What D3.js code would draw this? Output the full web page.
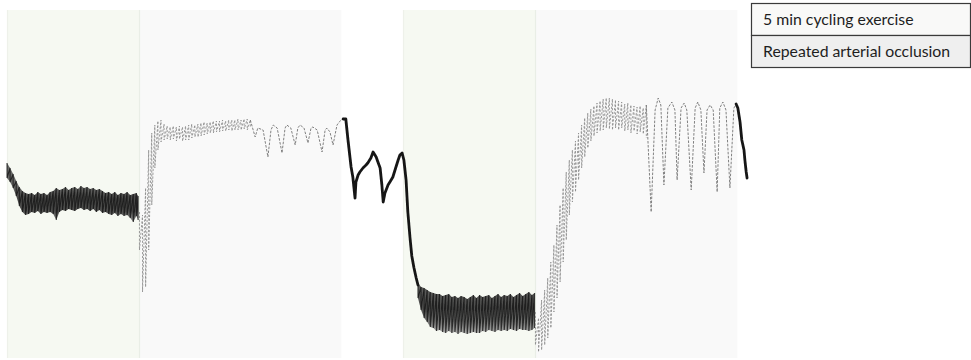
<!DOCTYPE html>
<html>
<head>
<meta charset="utf-8">
<script src="https://cdn.jsdelivr.net/npm/d3@7"></script>
<style>
  html, body { margin: 0; padding: 0; background: #fff; }
  svg { display: block; }
</style>
</head>
<body>
<svg id="chart" width="971" height="360"></svg>
<script>
// ---- Protocol phases (seconds from the start of the recording) ----
const phaseKinds = ["exercise", "occlusion", "exercise", "occlusion"];
const phaseStart = [0, 300, 900, 1200];
const phaseEnd   = [300, 760, 1200, 1660];

const legendLabels = ["5 min cycling exercise", "Repeated arterial occlusion"];
const legendKinds  = ["exercise", "occlusion"];

// ---- Signal, dense segments (upper / lower envelope of the fast oscillation) ----
// first exercise bout
const ex1Time = [0, 7, 14, 21, 28, 35, 42, 49, 56, 63, 70, 77, 84, 91, 98, 105, 112, 119, 126, 133, 140, 147,
  154, 161, 168, 175, 182, 189, 196, 203, 210, 217, 224, 231, 238, 245, 252, 259, 266, 273, 280, 287, 294, 298];
const ex1High = [48.75, 47.5, 46, 44.25, 42.75, 41.75, 41.25, 41, 41.25, 40.75, 41.5, 41, 41.25, 40.75, 41.5, 41.75,
  42.5, 42, 42.25, 42.75, 42, 42.5, 42.75, 42.25, 43, 42.5, 42.75, 42.25, 42.5, 42, 42.25, 41.75, 41.25, 41.5, 41,
  41.5, 40.75, 41.25, 41, 41.5, 40.75, 41, 41.25, 40.5];
const ex1Low = [45, 44, 42.5, 40.5, 38, 36.5, 35.75, 36, 36.5, 36.25, 36.75, 36, 36.5, 36.25, 36.5, 36, 34.5, 36.5,
  37, 36.75, 37.25, 37, 36.75, 37.25, 37.5, 37, 37.25, 36.75, 37.25, 36.5, 37, 36.25, 36.5, 36, 35.75, 36.25, 35.5,
  36, 35.5, 35.75, 35, 34, 35.5, 34.5];

// second exercise bout
const ex2Time = [934, 941, 948, 955, 962, 969, 976, 983, 990, 997, 1004, 1011, 1018, 1025, 1032, 1039, 1046, 1053,
  1060, 1067, 1074, 1081, 1088, 1095, 1102, 1109, 1116, 1123, 1130, 1137, 1144, 1151, 1158, 1165, 1172, 1179, 1186,
  1193, 1199];
const ex2High = [18.75, 17.75, 17.5, 17, 16.5, 16.25, 16, 16, 15.5, 15.75, 16, 15.25, 15.5, 15, 15.5, 15.25, 14.75,
  15.25, 15.75, 15, 15.75, 15.25, 15.5, 15.75, 15, 15.5, 16, 15.25, 15.75, 15.5, 16, 15.25, 15.75, 16.25, 15.5, 16,
  16.5, 15.75, 16.25];
const ex2Low = [15, 12, 10, 9, 7.75, 7.5, 6.75, 7, 6.5, 6.25, 6.75, 6.25, 6.5, 6, 6.5, 6.25, 6, 6.25, 6.5, 6.25,
  6.25, 6.75, 6.5, 7, 6.75, 6.5, 7, 6.75, 7, 6.75, 7.25, 7, 6.75, 7.25, 7, 7, 6.75, 7, 7.5];

// ---- Signal, pulsatile recovery (beat-to-beat peaks and troughs) ----
const rec1Time = [301, 308, 315, 322, 329, 336, 343, 350, 357, 364, 371, 378, 385, 392, 399, 406, 413, 420, 427,
  434, 441, 448, 455, 462, 469, 476, 483, 490, 497, 504, 511, 518, 525, 532, 539, 546, 553];
const rec1High = [36.5, 35.75, 42.5, 52, 56.25, 58.25, 59.25, 59.5, 58.5, 58, 57.75, 58, 57.75, 58, 57.75, 58,
  58.25, 58.5, 58.25, 58.5, 58.75, 59, 58.75, 59, 59.25, 59.25, 59.25, 59.5, 59.25, 59.5, 59.5, 59.5, 59.75, 59.5,
  59.75, 59.75, 59.5];
const rec1Low = [27, 16.5, 17.75, 27, 38.25, 47.5, 52, 54, 54.5, 54.75, 54.5, 54.75, 54.25, 54.75, 54.25, 54.5,
  54.5, 55, 55.25, 55.25, 55.5, 55.75, 56, 56.25, 56.25, 56.5, 56.5, 56.75, 56.75, 57, 56.75, 57, 57, 57, 57.25,
  57, 57.5];

const rec2Time = [1201, 1208, 1215, 1222, 1229, 1236, 1243, 1250, 1257, 1264, 1271, 1278, 1285, 1292, 1299, 1306,
  1313, 1320, 1327, 1334, 1341, 1348, 1355, 1362, 1369, 1376, 1383, 1390, 1397, 1404, 1411, 1418, 1425, 1432, 1439,
  1446, 1453];
const rec2High = [11.5, 10, 14.5, 17, 20, 24, 28.25, 33.25, 38.25, 42.5, 46.5, 49.5, 52, 54.25, 56.25, 58.25, 60,
  61.25, 62.25, 63, 63.75, 64.25, 64.75, 65, 65, 64.75, 64.5, 64.25, 64, 63.5, 63.75, 63.25, 63, 62.75, 63, 62.5,
  63.25];
const rec2Low = [3.25, 1.5, 2, 3.25, 5, 7.5, 11.5, 15, 19, 24, 29.5, 35.75, 39, 41.5, 44.5, 47.5, 50.25, 52.5,
  54.25, 55.5, 56.25, 56.75, 57, 57.5, 57.25, 57, 57.5, 57, 57.5, 56.75, 57, 56.25, 56.75, 56, 56.5, 56, 55];

// ---- Signal during the occlusion series ----
const occ1Time = [553, 564, 570, 582, 593, 600, 605, 614, 625, 632, 636, 645, 655, 661, 666, 675, 684, 691, 695,
  705, 716, 723, 727, 734, 741, 750, 759, 764];
const occ1Value = [59.5, 55.25, 57.5, 57, 50.25, 57, 58.25, 57.5, 51.25, 57.5, 58.25, 57.5, 53.25, 57.5, 58.25,
  57.5, 53.75, 57.5, 57.75, 57, 51.5, 57, 57.5, 56.5, 53.25, 58.25, 59.5, 60];

const occ2Time = [1453, 1464, 1473, 1480, 1486, 1493, 1502, 1511, 1518, 1523, 1532, 1539, 1545, 1555, 1564, 1570,
  1577, 1584, 1591, 1598, 1605, 1614, 1620, 1627, 1634, 1643, 1652, 1659];
const occ2Value = [63.25, 36.5, 62, 65, 63.25, 43.25, 62.5, 64, 62, 44.5, 62.5, 63.75, 62, 42, 62.5, 64, 62, 46.25,
  62, 63.25, 62, 41.5, 62.5, 64, 62, 42.5, 62.5, 63.75];

// ---- Signal, slow trace between the two protocols and at the end ----
const gapTime = [764, 770, 775, 782, 786, 791, 793, 798, 802, 809, 816, 820, 827, 832, 839, 843, 848, 852, 855,
  859, 866, 873, 877, 884, 889, 893, 898, 902, 907, 911, 916, 920, 925, 930, 934];
const gapValue = [59.75, 59.75, 54.5, 47.75, 45.25, 40, 44, 45.75, 46.5, 47.5, 48.25, 48.75, 50, 51.5, 50.25, 49,
  47.5, 43.25, 39, 41.25, 43.25, 44.5, 45.25, 47.75, 49.5, 50.75, 51.25, 49.5, 44.5, 36.5, 30, 25.5, 22.5, 20,
  18.25];

const tailTime = [1657, 1661, 1666, 1670, 1675, 1677, 1680, 1682];
const tailValue = [63.5, 62.5, 59, 54.5, 52, 49.5, 46.5, 45];

// ---- Drawing ----
const svg = d3.select("#chart");

const x = d3.scaleLinear().domain([0, 1700]).range([7, 755]);
const y = d3.scaleLinear().domain([0, 87]).range([358, 10]);

const phaseFill = { exercise: "#f6f9f2", occlusion: "#f9f9f9" };
const legendFill = { exercise: "#f9f9f8", occlusion: "#efefef" };

const defs = svg.append("defs");
defs.append("filter").attr("id", "soft")
  .attr("x", "-5%").attr("y", "-5%").attr("width", "110%").attr("height", "110%")
  .append("feGaussianBlur").attr("stdDeviation", 0.45);
defs.append("filter").attr("id", "softer")
  .attr("x", "-5%").attr("y", "-20%").attr("width", "110%").attr("height", "140%")
  .append("feGaussianBlur").attr("stdDeviation", 0.55);

const grad1 = defs.append("linearGradient").attr("id", "band1")
  .attr("gradientUnits", "userSpaceOnUse")
  .attr("x1", 0).attr("x2", 0).attr("y1", y(43)).attr("y2", y(34.5));
grad1.append("stop").attr("offset", "0%").attr("stop-color", "#444");
grad1.append("stop").attr("offset", "35%").attr("stop-color", "#1e1e1e");
grad1.append("stop").attr("offset", "75%").attr("stop-color", "#262626");
grad1.append("stop").attr("offset", "100%").attr("stop-color", "#666");

const grad2 = defs.append("linearGradient").attr("id", "band2")
  .attr("gradientUnits", "userSpaceOnUse")
  .attr("x1", 0).attr("x2", 0).attr("y1", y(17)).attr("y2", y(6));
grad2.append("stop").attr("offset", "0%").attr("stop-color", "#333");
grad2.append("stop").attr("offset", "40%").attr("stop-color", "#222");
grad2.append("stop").attr("offset", "75%").attr("stop-color", "#5a5a5a");
grad2.append("stop").attr("offset", "100%").attr("stop-color", "#999");

// shaded protocol phases
const phases = phaseKinds.map((k, i) => ({ kind: k, start: phaseStart[i], end: phaseEnd[i] }));
const gPhase = svg.append("g");
gPhase.selectAll("rect").data(phases).join("rect")
  .attr("x", d => x(d.start))
  .attr("y", y(87))
  .attr("width", d => x(d.end) - x(d.start))
  .attr("height", y(0) - y(87))
  .attr("fill", d => phaseFill[d.kind]);
gPhase.selectAll("line").data(phases).join("line")
  .attr("x1", d => x(d.start) + 0.5).attr("x2", d => x(d.start) + 0.5)
  .attr("y1", y(87)).attr("y2", y(0))
  .attr("stroke", d => d.kind === "exercise" ? "#eef1ea" : "#e9eee6")
  .attr("stroke-width", 1.2);

const gDense = svg.append("g").attr("filter", "url(#softer)");
const gSig = svg.append("g").attr("filter", "url(#soft)");

const zip3 = (t, hi, lo) => t.map((v, i) => ({ t: v, hi: hi[i], lo: lo[i] }));
const zigzag = rows => rows.flatMap(r => [[r.t, r.hi], [r.t, r.lo]]);
const pairs = (t, v) => t.map((d, i) => [d, v[i]]);

const area = d3.area().x(d => x(d.t)).y0(d => y(d.lo)).y1(d => y(d.hi)).curve(d3.curveLinear);
const line = d3.line().x(d => x(d[0])).y(d => y(d[1]));

// dense exercise segments: filled envelope with the oscillation drawn over it
function denseBand(rows, fill) {
  gDense.append("path").datum(rows).attr("d", area)
    .attr("fill", fill).attr("fill-opacity", 0.8);
  gDense.append("path").datum(zigzag(rows)).attr("d", line)
    .attr("fill", "none").attr("stroke", "#151515").attr("stroke-width", 1.1)
    .attr("stroke-opacity", 0.8);
}
denseBand(zip3(ex1Time, ex1High, ex1Low), "url(#band1)");
denseBand(zip3(ex2Time, ex2High, ex2Low), "url(#band2)");

// pulsatile recovery, thin dashed trace
function pulsatile(rows) {
  gSig.append("path").datum(zigzag(rows)).attr("d", line)
    .attr("fill", "none").attr("stroke", "#8f8f8f").attr("stroke-width", 0.9)
    .attr("stroke-dasharray", "2.2,1.6");
}
pulsatile(zip3(rec1Time, rec1High, rec1Low));
pulsatile(zip3(rec2Time, rec2High, rec2Low));

// occlusion series
[pairs(occ1Time, occ1Value), pairs(occ2Time, occ2Value)].forEach(pts => {
  gSig.append("path").datum(pts).attr("d", line)
    .attr("fill", "none").attr("stroke", "#808080").attr("stroke-width", 1)
    .attr("stroke-dasharray", "2.6,1.4").attr("stroke-linejoin", "round");
});

// slow trace between protocols and at the end
[pairs(gapTime, gapValue), pairs(tailTime, tailValue)].forEach(pts => {
  gSig.append("path").datum(pts).attr("d", line)
    .attr("fill", "none").attr("stroke", "#161616").attr("stroke-width", 2.8)
    .attr("stroke-linejoin", "round").attr("stroke-linecap", "round");
});

// legend
const lg = svg.append("g").attr("transform", "translate(751.5,3.5)");
const rowH = 32, lgW = 219;
lg.selectAll("rect.row").data(legendLabels).join("rect")
  .attr("class", "row")
  .attr("x", 0).attr("y", (d, i) => i * rowH)
  .attr("width", lgW).attr("height", rowH)
  .attr("fill", (d, i) => legendFill[legendKinds[i]])
  .attr("stroke", "#3a3a3a").attr("stroke-width", 1.2);
lg.selectAll("text").data(legendLabels).join("text")
  .attr("x", 11.5).attr("y", (d, i) => i * rowH + 21.5)
  .attr("font-family", "Lato, 'Open Sans', sans-serif")
  .attr("font-size", 15.8)
  .attr("fill", "#1e1e1e")
  .text(d => d);
</script>
</body>
</html>
